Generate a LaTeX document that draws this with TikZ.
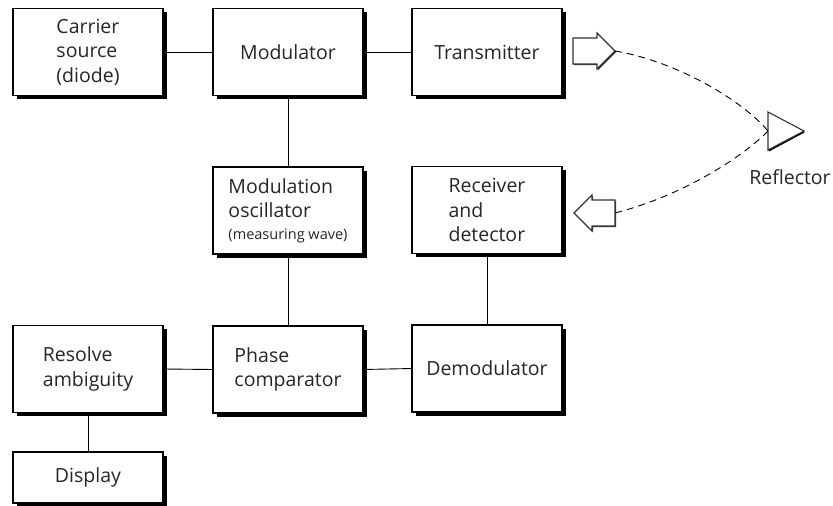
\documentclass[tikz,border=0pt]{standalone}
\usepackage{fontspec}
\setmainfont{Open Sans}
\usetikzlibrary{shadows}
\begin{document}
\begin{tikzpicture}[x=1pt,y=-1pt,
  blk/.style={draw=black, line width=1.1pt, fill=white, rectangle,
    minimum width=150pt, minimum height=87pt, inner sep=0pt, outer sep=0pt,
    align=left, font=\fontsize{19.5}{24.5}\selectfont, text=black!85,
    drop shadow={shadow xshift=3.5pt, shadow yshift=-3.5pt, fill=black, opacity=1}},
  wire/.style={line width=0.9pt, black},
  hollow/.style={draw=black!80, line width=1.1pt, fill=white, line join=miter},
  hshadow/.style={fill=black!85, draw=none},
  beam/.style={dashed, dash pattern=on 7pt off 5pt, line width=0.9pt}
]
\useasboundingbox (0,0) rectangle (833,506);

\node[blk] (car) at (88,52) {Carrier\\source\\(diode)};
\node[blk] (mod) at (288,52) {Modulator};
\node[blk] (tx)  at (487,52) {Transmitter};
\node[blk] (osc) at (288,210.5) {Modulation\\oscillator\\[-3pt]{\fontsize{14.5}{16}\selectfont(measuring wave)}};
\node[blk] (rec) at (487,210) {Receiver\\and\\detector};
\node[blk] (res) at (88,369) {Resolve\\ambiguity};
\node[blk] (pc)  at (288,369.5) {Phase\\comparator};
\node[blk] (dem) at (487,368.5) {Demodulator};
\node[blk, minimum height=51pt] (disp) at (88,477.5) {Display};

\draw[wire] (car.east) -- (mod.west);
\draw[wire] (mod.east) -- (tx.west);
\draw[wire] (mod.south) -- (osc.north);
\draw[wire] (osc.south) -- (pc.north);
\draw[wire] (res.east) -- (pc.west);
\draw[wire] (pc.east) -- (dem.west);
\draw[wire] (rec.south) -- (dem.north);
\draw[wire] (res.south) -- (disp.north);

% outgoing block arrow (transmitted beam)
\fill[hshadow] (574,39) -- (598,39) -- (598,34) -- (616,52) -- (598,70) -- (598,65) -- (574,65) -- cycle;
\draw[hollow] (573,38) -- (597,38) -- (597,33) -- (615,51) -- (597,69) -- (597,64) -- (573,64) -- cycle;
\coordinate (txa) at (615,51);

% incoming block arrow (received beam)
\fill[hshadow] (616,201) -- (593,201) -- (593,196) -- (575,214) -- (593,232) -- (593,227) -- (616,227) -- cycle;
\draw[hollow] (615,200) -- (592,200) -- (592,195) -- (574,213) -- (592,231) -- (592,226) -- (615,226) -- cycle;
\coordinate (rxa) at (615,213);

% reflector
\draw[line width=2.2pt, black] (804,131.5) -- (768.5,150.5);
\draw[hollow] (768,112) -- (804,131) -- (768,150) -- cycle;
\coordinate (refl) at (768,131);
\node[font=\fontsize{19.5}{22}\selectfont, text=black!85] (refllbl) at (790,177) {Reflector};

\draw[beam] (txa) .. controls (680,62) and (745,103) .. (refl);
\draw[beam] (refl) .. controls (745,155) and (685,195) .. (rxa);
\end{tikzpicture}
\end{document}
